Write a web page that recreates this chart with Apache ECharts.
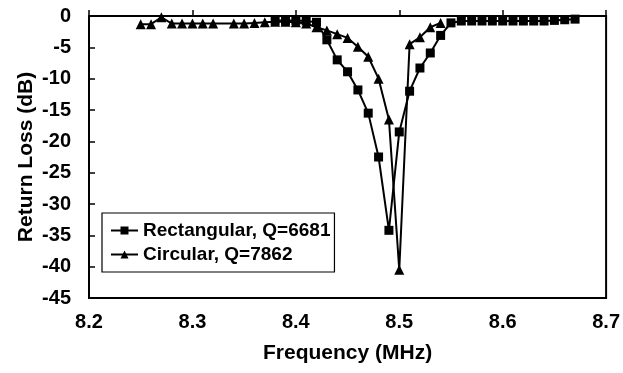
<!DOCTYPE html>
<html>
<head>
<meta charset="utf-8">
<script src="https://cdn.jsdelivr.net/npm/echarts@6/dist/echarts.min.js"></script>
<style>
  html, body { margin: 0; padding: 0; background: #fff; }
  #chart { width: 623px; height: 373px; }
</style>
</head>
<body>
<div id="chart"></div>
<script>
// frequency in MHz, return loss in dB
const rectFreq = [8.38, 8.39, 8.40, 8.41, 8.42, 8.43, 8.44, 8.45, 8.46, 8.47, 8.48, 8.49, 8.50, 8.51, 8.52, 8.53, 8.54, 8.55,
                  8.56, 8.57, 8.58, 8.59, 8.60, 8.61, 8.62, 8.63, 8.64, 8.65, 8.66, 8.67];
const rectLoss = [-0.7, -0.7, -0.7, -0.8, -1.0, -3.8, -7.0, -8.9, -11.8, -15.5, -22.5, -34.2, -18.5, -12.0, -8.3, -5.9, -3.1, -1.1,
                  -0.8, -0.8, -0.8, -0.8, -0.8, -0.8, -0.8, -0.8, -0.8, -0.7, -0.6, -0.5];
const circFreq = [8.25, 8.26, 8.27, 8.28, 8.29, 8.30, 8.31, 8.32, 8.34, 8.35, 8.36, 8.37, 8.38, 8.39, 8.40, 8.41, 8.42,
                  8.43, 8.44, 8.45, 8.46, 8.47, 8.48, 8.49, 8.50, 8.51, 8.52, 8.53, 8.54];
const circLoss = [-1.3, -1.3, -0.2, -1.2, -1.2, -1.2, -1.2, -1.2, -1.2, -1.2, -1.1, -1.0, -0.9, -0.9, -1.0, -1.2, -1.8,
                  -2.3, -2.9, -3.5, -4.9, -6.5, -10.0, -16.5, -40.5, -4.5, -3.4, -1.8, -1.1];
const xTicks = { min: 8.2, max: 8.7, step: 0.1 };
const yTicks = { min: -45, max: 0, step: 5 };

const zip = (xs, ys) => xs.map((x, i) => [x, ys[i]]);
const font = 'Liberation Sans, Arial, sans-serif';

const myChart = echarts.init(document.getElementById('chart'));
myChart.setOption({
    animation: false,
    grid: { left: 89, right: 14, top: 16, bottom: 75, show: true, borderColor: '#000', borderWidth: 2 },
    xAxis: {
        type: 'value',
        min: xTicks.min, max: xTicks.max, interval: xTicks.step,
        name: 'Frequency (MHz)', nameLocation: 'middle', nameGap: 45, nameMoveOverlap: false,
        nameTextStyle: { fontFamily: font, fontWeight: 'bold', fontSize: 21, color: '#000' },
        axisLine: { lineStyle: { color: '#000', width: 2 } },
        axisTick: { inside: true, length: 6, lineStyle: { color: '#000', width: 1.5 } },
        splitLine: { show: false },
        axisLabel: {
            margin: 14, color: '#000', fontFamily: font, fontWeight: 'bold', fontSize: 20,
            formatter: v => v.toFixed(1)
        }
    },
    yAxis: {
        type: 'value',
        min: yTicks.min, max: yTicks.max, interval: yTicks.step,
        name: 'Return Loss (dB)', nameLocation: 'middle', nameGap: 52, nameMoveOverlap: false,
        nameTextStyle: { fontFamily: font, fontWeight: 'bold', fontSize: 21, color: '#000' },
        axisLine: { show: true, lineStyle: { color: '#000', width: 2 } },
        axisTick: { show: true, inside: true, length: 6, lineStyle: { color: '#000', width: 1.5 } },
        splitLine: { show: false },
        axisLabel: { margin: 18, color: '#000', fontFamily: font, fontWeight: 'bold', fontSize: 20 }
    },
    legend: {
        orient: 'vertical',
        left: 102, top: 213,
        padding: [8, 4, 8, 8],
        itemGap: 5,
        itemWidth: 27, itemHeight: 10,
        backgroundColor: '#fff',
        borderColor: '#000', borderWidth: 1.2,
        textStyle: { fontFamily: font, fontWeight: 'bold', fontSize: 19, color: '#000' },
        data: ['Rectangular, Q=6681', 'Circular, Q=7862']
    },
    series: [
        {
            name: 'Rectangular, Q=6681',
            type: 'line',
            data: zip(rectFreq, rectLoss),
            symbol: 'rect', symbolSize: 9,
            itemStyle: { color: '#000' },
            lineStyle: { color: '#000', width: 2 }
        },
        {
            name: 'Circular, Q=7862',
            type: 'line',
            data: zip(circFreq, circLoss),
            symbol: 'triangle', symbolSize: 10,
            itemStyle: { color: '#000' },
            lineStyle: { color: '#000', width: 2 }
        }
    ]
});
</script>
</body>
</html>
